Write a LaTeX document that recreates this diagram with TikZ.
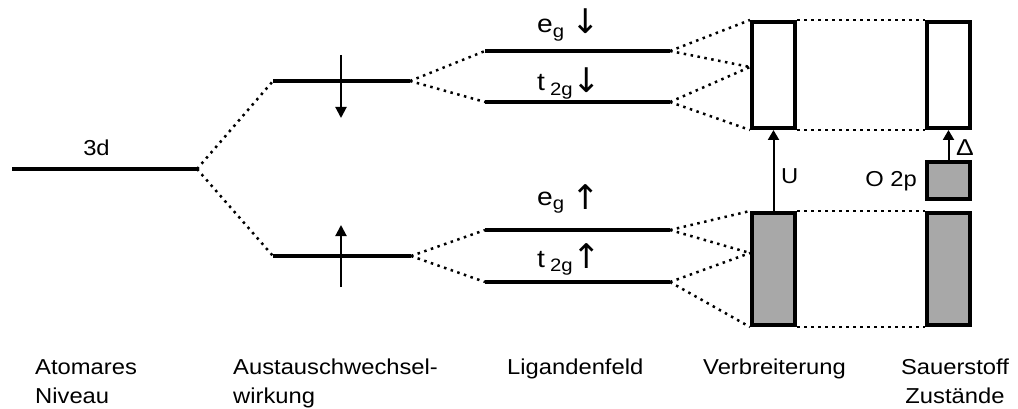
\documentclass[tikz,border=0pt]{standalone}
\usepackage{fontspec}
\setmainfont{Liberation Sans}
\newfontfamily\symfont{DejaVu Sans}
\usetikzlibrary{arrows.meta,calc}
\newcommand\lowsub[1]{\raisebox{-4.5pt}{\fontsize{18}{18}\selectfont #1}}
\tikzset{
  lvl/.style={line width=4pt},
  dotline/.style={line width=2.5pt, dash pattern=on 2.5pt off 4.5pt},
  band/.style={draw, line width=4pt, minimum width=43pt, inner sep=0pt},
  spin/.style={line width=2pt, -{Triangle[length=11pt,width=11pt]}},
  gap/.style={line width=2pt, -{Triangle[length=10pt,width=11pt]}},
  lab/.style={inner sep=0pt, xscale=1.1, transform shape, font=\fontsize{21.6}{29}\selectfont},
  biglab/.style={inner sep=0pt, xscale=1.13, transform shape, font=\fontsize{25}{30}\selectfont},
  arr/.style={inner sep=0pt, font=\symfont\fontsize{34}{34}\selectfont},
}
\begin{document}
\begin{tikzpicture}[x=1pt,y=-1pt]
\useasboundingbox (0,0) rectangle (1018,409);
% coordinates of levels
\coordinate (a3dL) at (12,169);
\coordinate (a3dR) at (197,169);
\coordinate (exUL) at (273,81);
\coordinate (exUR) at (410,81);
\coordinate (exLL) at (273,256);
\coordinate (exLR) at (411,256);
\coordinate (egdL) at (485,51);
\coordinate (egdR) at (670,51);
\coordinate (ttdL) at (485,102);
\coordinate (ttdR) at (670,102);
\coordinate (eguL) at (485,230);
\coordinate (eguR) at (670,230);
\coordinate (ttuL) at (485,282);
\coordinate (ttuR) at (670,282);
% levels
\draw[lvl] (a3dL) -- (a3dR);
\draw[lvl] (exUL) -- (exUR);
\draw[lvl] (exLL) -- (exLR);
\draw[lvl] (egdL) -- (egdR);
\draw[lvl] (ttdL) -- (ttdR);
\draw[lvl] (eguL) -- (eguR);
\draw[lvl] (ttuL) -- (ttuR);
% bands
\node[band, minimum height=106pt] (vU) at (773.5,75) {};
\node[band, minimum height=112pt, fill=black!34] (vL) at (773.5,269) {};
\node[band, minimum height=106pt] (sU) at (948.5,75) {};
\node[band, minimum height=37pt, fill=black!34] (sO) at (948.5,180.5) {};
\node[band, minimum height=112pt, fill=black!34] (sL) at (948.5,269) {};
\coordinate (vUm) at (750,67);
\coordinate (vLm) at (750,253);
% dotted connectors
\draw[dotline] (a3dR) -- (exUL);
\draw[dotline] (a3dR) -- (exLL);
\draw[dotline] (exUR) -- (egdL);
\draw[dotline] (exUR) -- (ttdL);
\draw[dotline] (exLR) -- (eguL);
\draw[dotline] (exLR) -- (ttuL);
\draw[dotline] (egdR) -- (vU.north west);
\draw[dotline] (egdR) -- (vUm);
\draw[dotline] (ttdR) -- (vUm);
\draw[dotline] (ttdR) -- (vU.south west);
\draw[dotline] (eguR) -- (vL.north west);
\draw[dotline] (eguR) -- (vLm);
\draw[dotline] (ttuR) -- (vLm);
\draw[dotline] (ttuR) -- (vL.south west);
\draw[dotline] (vU.north east) -- (sU.north west);
\draw[dotline] (vU.south east) -- (sU.south west);
\draw[dotline] (vL.north east) -- (sL.north west);
\draw[dotline] (vL.south east) -- (sL.south west);
% spin arrows on exchange levels
\coordinate (spUt) at (341,55);
\coordinate (spUb) at (341,118);
\coordinate (spLb) at (341,287);
\coordinate (spLt) at (341,225);
\draw[spin] (spUt) -- (spUb);
\draw[spin] (spLb) -- (spLt);
% U and Delta arrows
\draw[gap] (vL.north) -- (vU.south);
\draw[gap] (sO.north) -- (sU.south);
% labels
\node[lab, anchor=base] (l3d) at (96.5,156) {3d};
\node[biglab, anchor=base west] (legd) at (537,33) {e\lowsub{g}};
\node[arr, anchor=base] (ad1) at (586,34) {↓};
\node[biglab, anchor=base west] (ltgd) at (537,91) {t\hspace{4.5pt}\lowsub{2g}};
\node[arr, anchor=base] (ad2) at (587,93) {↓};
\node[biglab, anchor=base west] (legu) at (537,205) {e\lowsub{g}};
\node[arr, anchor=base] (au1) at (586,210) {↑};
\node[biglab, anchor=base west] (ltgu) at (537,267) {t\hspace{4.5pt}\lowsub{2g}};
\node[arr, anchor=base] (au2) at (587,268) {↑};
\node[lab, anchor=base west] (lU) at (781,183) {U};
\node[lab, anchor=base east] (lO) at (917,186) {O 2p};
\node[inner sep=0pt, xscale=1.15, transform shape, font=\fontsize{23}{24}\selectfont, anchor=base west] (lD) at (956,156) {Δ};
% bottom captions
\node[lab, anchor=north west, align=left] (cAt) at (35,359) {Atomares\\Niveau};
\node[lab, anchor=north west, align=left] (cAu) at (233,359) {Austauschwechsel-\\wirkung};
\node[lab, anchor=north west] (cLi) at (507,359) {Ligandenfeld};
\node[lab, anchor=north west] (cVe) at (703,359) {Verbreiterung};
\node[lab, anchor=north, align=center] (cSa) at (955,359) {Sauerstoff\\Zustände};
\end{tikzpicture}
\end{document}
